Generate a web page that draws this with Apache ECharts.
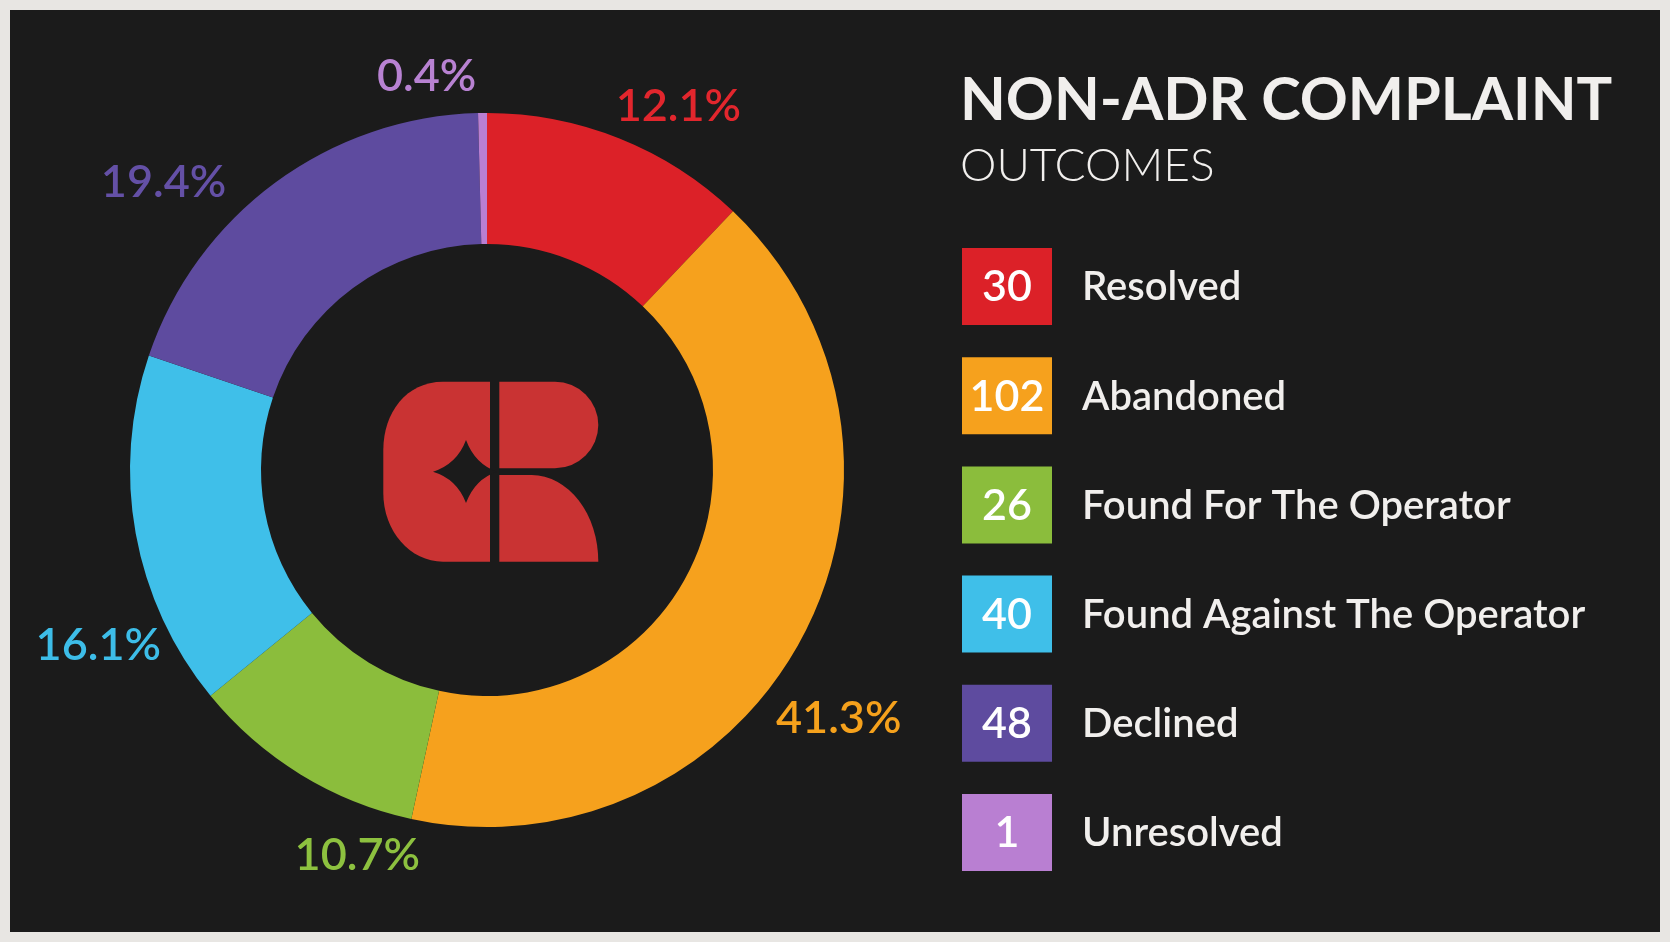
<!DOCTYPE html>
<html>
<head>
<meta charset="utf-8">
<script src="https://cdn.jsdelivr.net/npm/echarts@6/dist/echarts.min.js"></script>
<style>
html,body{margin:0;padding:0;background:#e8e6e3;}
#chart{width:1670px;height:942px;}
</style>
</head>
<body>
<div id="chart"></div>
<script>
const categories = ['Resolved', 'Abandoned', 'Found For The Operator', 'Found Against The Operator', 'Declined', 'Unresolved'];
const counts = [30, 102, 26, 40, 48, 1];
const percents = [12.1, 41.3, 10.7, 16.1, 19.4, 0.4];
const sliceColors = ['#dc2128', '#f6a11d', '#8bbd3c', '#3fbfe9', '#5e4b9f', '#b97fd2'];
const labelColors = ['#e2262d', '#f5a11c', '#8dc13f', '#3dbde8', '#6450a6', '#b882d2'];
const titleLine1 = 'NON-ADR COMPLAINT';
const titleLine2 = 'OUTCOMES';

const FONT = 'Lato, "Open Sans", sans-serif';
const BG = '#1b1b1b';

// label nudges (style only), per slice index
const labelNudge = [[-23, -12], [-57, 71], [142, 62], [58, 108], [-25, 18], [5, -15]];

// centre logo shapes (decoration)
const logoPaths = {
  logoLeft: 'M490 381.7 L443 381.7 C406 381.7 383.3 413 383.3 450 L383.3 493 C383.3 531 410 561.7 443 561.7 L490 561.7 Z',
  logoTop: 'M499.3 381.7 L555 381.7 A43.3 43.3 0 0 1 555 468.3 L499.3 468.3 Z',
  logoBottom: 'M499.3 475 L531.7 475 A66.7 86.7 0 0 1 598.3 561.7 L499.3 561.7 Z',
  logoStar: 'M433 471.7 Q457 464 466 440 Q475 464 497 471.7 Q475 479 466 503 Q457 479 433 471.7 Z'
};
Object.keys(logoPaths).forEach(k => {
  echarts.graphic.registerShape(k, echarts.graphic.extendPath(logoPaths[k], {}));
});

const chart = echarts.init(document.getElementById('chart'));

const legendTop = 248, legendPitch = 109.2, boxX = 962, boxW = 90, boxH = 77;
const legendGraphics = [];
categories.forEach((name, i) => {
  const y = legendTop + i * legendPitch;
  legendGraphics.push({
    type: 'rect', z: 10,
    shape: { x: boxX, y: y, width: boxW, height: boxH },
    style: { fill: sliceColors[i] }
  });
  legendGraphics.push({
    type: 'text', z: 11,
    style: {
      x: boxX + boxW / 2, y: y + boxH / 2 + 1,
      text: String(counts[i]), fill: '#ffffff',
      font: '600 43px ' + FONT, textAlign: 'center', textVerticalAlign: 'middle'
    }
  });
  legendGraphics.push({
    type: 'text', z: 11,
    style: {
      x: 1082, y: y + boxH / 2 + 1,
      text: name, fill: '#f1efed',
      font: '600 40px ' + FONT, textAlign: 'left', textVerticalAlign: 'middle'
    }
  });
});

const logoColor = '#c93333';
const option = {
  backgroundColor: '#e8e6e3',
  animation: false,
  graphic: [
    { type: 'rect', z: -10, shape: { x: 10, y: 10, width: 1650, height: 922 }, style: { fill: BG } },
    { type: 'text', z: 10, style: { x: 960, y: 101, text: titleLine1, fill: '#f1efed', font: '700 59.5px ' + FONT, textAlign: 'left', textVerticalAlign: 'middle' } },
    { type: 'text', z: 10, style: { x: 960, y: 166, text: titleLine2, fill: '#f1efed', font: '300 46px ' + FONT, textAlign: 'left', textVerticalAlign: 'middle' } },
    { type: 'logoLeft', z: 20, style: { fill: logoColor } },
    { type: 'logoTop', z: 20, style: { fill: logoColor } },
    { type: 'logoBottom', z: 20, style: { fill: logoColor } },
    { type: 'logoStar', z: 21, style: { fill: BG } }
  ].concat(legendGraphics),
  series: [{
    type: 'pie',
    center: [487, 470],
    radius: [226, 357],
    startAngle: 90,
    clockwise: true,
    avoidLabelOverlap: false,
    data: categories.map((name, i) => ({
      name: name,
      value: percents[i],
      itemStyle: { color: sliceColors[i] },
      label: { color: labelColors[i] }
    })),
    label: {
      show: true,
      position: 'outside',
      formatter: p => p.value.toFixed(1) + '%',
      fontFamily: FONT,
      fontWeight: 600,
      fontSize: 45
    },
    labelLine: { show: false, length: 22, length2: 6 },
    labelLayout: p => ({ dx: labelNudge[p.dataIndex][0], dy: labelNudge[p.dataIndex][1] }),
    emphasis: { disabled: true }
  }]
};
chart.setOption(option);
</script>
</body>
</html>
